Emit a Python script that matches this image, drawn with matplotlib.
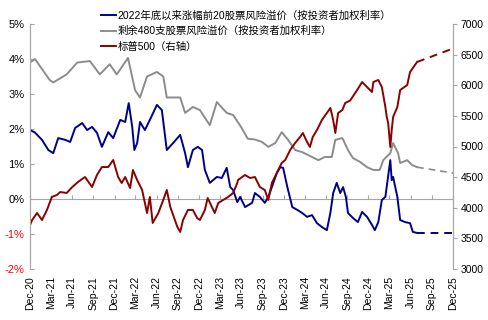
import matplotlib
matplotlib.use("Agg")
import matplotlib.pyplot as plt
import numpy as np
import pandas as pd

plt.rcParams['font.family'] = ['Liberation Sans', 'Noto Sans CJK SC', 'DejaVu Sans']

# ---- data (months since 2020-12-01) ----
gray_m = [0, 0.7, 1.4, 2.8, 3.3, 4.3, 5.2, 6.7, 8.5, 9.9, 11.3, 12.3, 13.9, 14.9, 15.6, 16.6,
          18.0, 18.9, 19.4, 21.3, 22.0, 23.1, 24.1, 25.5, 26.5, 27.9, 28.8, 29.8, 30.9, 31.9,
          32.9, 33.8, 34.8, 35.7, 36.6, 37.6, 38.6, 40.0, 40.9, 41.8, 42.8, 43.3, 44.3, 45.1,
          45.8, 46.8, 47.8, 48.7, 49.6, 50.1, 51.1, 51.5, 52.2, 52.5, 53.5, 54.2, 54.9]
gray_v = [3.9, 4.0, 3.8, 3.4, 3.33, 3.45, 3.56, 3.9, 3.94, 3.56, 3.85, 3.56, 4.03, 3.11, 2.9, 3.5,
          3.63, 3.5, 2.9, 2.9, 2.46, 2.63, 2.54, 2.11, 2.77, 2.46, 2.4, 2.1, 1.72, 1.7,
          1.63, 1.49, 1.6, 1.91, 1.69, 1.4, 1.34, 1.2, 1.11, 1.2, 1.2, 1.69, 1.74, 1.4,
          1.17, 1.06, 0.91, 0.83, 0.83, 1.11, 1.31, 1.6, 1.31, 1.03, 1.11, 0.97, 0.91]
gray_proj_m = [54.9, 60.0]
gray_proj_v = [0.91, 0.74]

blue_m = [0, 0.7, 1.7, 2.6, 3.3, 4.0, 5.0, 5.7, 6.4, 7.4, 8.1, 8.8, 9.5, 10.2, 11.1, 11.8, 12.8,
          13.5, 14.0, 14.5, 14.8, 15.2, 15.6, 16.3, 17.0, 18.0, 18.7, 19.1, 19.4, 20.3, 21.3,
          22.0, 22.4, 23.1, 23.8, 24.4, 24.8, 25.5, 26.5, 27.2, 27.9, 28.4, 28.8, 29.4, 29.8,
          30.5, 31.5, 31.9, 32.6, 33.3, 33.8, 34.3, 35.0, 35.5, 35.9, 36.5, 37.2, 37.9, 38.6,
          39.3, 40.0, 40.7, 41.4, 42.1, 42.6, 43.0, 43.5, 44.0, 44.4, 44.8, 45.1, 45.8, 46.5,
          47.1, 47.8, 48.5, 48.9, 49.4, 49.9, 50.4, 51.1, 51.3, 51.5, 52.1, 52.5, 53.2, 53.9,
          54.3, 54.9]
blue_v = [1.97, 1.9, 1.69, 1.4, 1.31, 1.74, 1.69, 1.63, 2.03, 2.17, 1.97, 2.06, 1.89, 1.49, 1.91,
          1.74, 2.26, 2.2, 2.74, 2.06, 1.4, 1.6, 2.2, 1.97, 2.26, 2.69, 2.54, 1.89, 1.4, 1.6, 1.83,
          1.31, 0.91, 1.4, 1.49, 1.4, 0.83, 0.46, 0.63, 0.6, 0.89, 0.34, 0.26, -0.09, 0.06,
          -0.23, -0.11, 0.17, 0.06, -0.11, 0.06, 0.34, 0.74, 0.91, 0.89, 0.34, -0.23, -0.31, -0.4,
          -0.51, -0.46, -0.69, -0.8, -0.89, -0.4, 0.17, 0.46, 0.17, 0.34, 0.06, -0.4, -0.54, -0.66,
          -0.37, -0.51, -0.74, -0.89, -0.66, -0.03, 0.06, 1.11, 0.54, 0.63, 0.06, -0.6, -0.66, -0.69,
          -0.94, -0.97]
blue_proj_m = [54.9, 60.0]
blue_proj_v = [-0.97, -0.97]

spx_m = [0, 0.3, 1.0, 1.7, 2.4, 3.1, 3.8, 4.3, 5.2, 6.0, 6.8, 7.8, 8.8, 9.5, 10.2, 11.1, 11.8,
         12.5, 13.0, 13.5, 14.2, 14.6, 15.2, 15.9, 16.6, 17.0, 17.4, 18.2, 18.9, 19.4, 19.9,
         20.9, 21.3, 21.7, 22.4, 23.1, 23.7, 24.1, 24.8, 25.2, 25.8, 26.2, 26.7, 27.4, 28.1,
         28.8, 29.4, 29.5, 30.5, 31.2, 31.9, 32.6, 33.3, 33.8, 34.3, 35.0, 35.7, 36.2, 36.9,
         37.6, 38.3, 38.7, 39.3, 39.7, 40.1, 40.7, 41.4, 42.1, 42.6, 43.0, 43.3, 43.7, 44.3,
         44.7, 45.4, 46.4, 47.1, 47.8, 48.5, 48.7, 49.4, 49.9, 50.4, 50.6, 50.8, 51.1, 51.3,
         51.5, 52.1, 52.5, 52.9, 53.5, 53.9, 54.3, 54.9]
spx_v = [3718, 3800, 3914, 3800, 3963, 4176, 4208, 4257, 4241, 4339, 4420, 4502, 4339, 4535, 4665,
         4665, 4780, 4502, 4404, 4502, 4322, 4616, 4453, 4290, 3914, 4176, 3751, 3914, 4127, 4290,
         4012, 3686, 3604, 3800, 3963, 3963, 3833, 3800, 3963, 4159, 4012, 3914, 4078, 4127, 4176,
         4241, 4404, 4453, 4535, 4486, 4502, 4339, 4290, 4127, 4404, 4567, 4731, 4780, 4943,
         5057, 5155, 5220, 5073, 4992, 5155, 5269, 5433, 5547, 5629, 5433, 5220, 5547, 5596,
         5710, 5750, 5922, 6053, 5971, 5890, 6053, 6086, 5971, 5645, 5482, 5384, 4992, 5269,
         5482, 5645, 5922, 5955, 6004, 6216, 6282, 6380]
spx_proj_m = [54.9, 60.0]
spx_proj_v = [6380, 6600]

labels = ["2022年底以来涨幅前20股票风险溢价（按投资者加权利率）",
          "剩余480支股票风险溢价（按投资者加权利率）",
          "标普500（右轴）"]

BLUE = "#00008B"
GRAY = "#8C8C8C"
RED = "#8B0000"
AXC = "#A6A6A6"

start = pd.Timestamp("2020-12-01")
def to_date(m):
    return start + pd.to_timedelta(np.asarray(m) * 30.437, unit="D")

fig = plt.figure(figsize=(4.88, 3.2), dpi=100)
ax = fig.add_axes([30 / 488, 1 - 269 / 320, 423 / 488, 245 / 320])
ax2 = ax.twinx()

l1, = ax.plot(to_date(blue_m), blue_v, color=BLUE, lw=1.4, label=labels[0])
ax.plot(to_date(blue_proj_m), blue_proj_v, color=BLUE, lw=1.4, ls=(0, (4, 3)))
l2, = ax.plot(to_date(gray_m), gray_v, color=GRAY, lw=1.4, label=labels[1])
ax.plot(to_date(gray_proj_m), gray_proj_v, color=GRAY, lw=1.2, ls=(0, (4, 3)))
l3, = ax2.plot(to_date(spx_m), spx_v, color=RED, lw=1.4, label=labels[2])
ax2.plot(to_date(spx_proj_m), spx_proj_v, color=RED, lw=1.4, ls=(0, (4, 3)))

xt = pd.date_range("2020-12-01", "2025-12-01", freq="3MS")
ax.set_xlim(xt[0], xt[-1])
ax.set_ylim(-2, 5)
ax2.set_ylim(3000, 7000)

ax.set_yticks(range(-2, 6))
ax.set_yticklabels([f"{v}%" for v in range(-2, 6)])
for t, v in zip(ax.get_yticklabels(), range(-2, 6)):
    t.set_color("red" if v < 0 else "black")
ax2.set_yticks(range(3000, 7001, 500))

ax.set_xticks(xt)
ax.set_xticklabels([d.strftime("%b-%y") for d in xt], rotation=90, fontsize=7.5)
ax.tick_params(axis="x", length=0, pad=5)
ax.tick_params(axis="y", labelsize=8, length=3, direction="in", color=AXC, pad=4)
ax2.tick_params(axis="y", labelsize=7.5, length=3, direction="out", color=AXC, pad=2.5)

for a in (ax, ax2):
    a.spines["top"].set_visible(False)
    a.spines["bottom"].set_visible(False)
    a.spines["left"].set_color(AXC)
    a.spines["right"].set_color(AXC)
    a.patch.set_visible(False)

sec = ax.secondary_xaxis(2 / 7)
sec.set_xticks(xt)
sec.set_xticklabels([])
sec.tick_params(axis="x", direction="in", length=3, color=AXC)
for s in sec.spines.values():
    s.set_visible(False)
sec.spines["bottom"].set_visible(True)
sec.spines["bottom"].set_color(AXC)

fig.legend(handles=[l1, l2, l3], loc="upper left", bbox_to_anchor=(101 / 488, 1 - 10 / 320),
           frameon=False, fontsize=7.5, handlelength=1.45, handletextpad=0.15,
           labelspacing=0.55, borderpad=0, borderaxespad=0)

fig.savefig("out.png", dpi=100)
